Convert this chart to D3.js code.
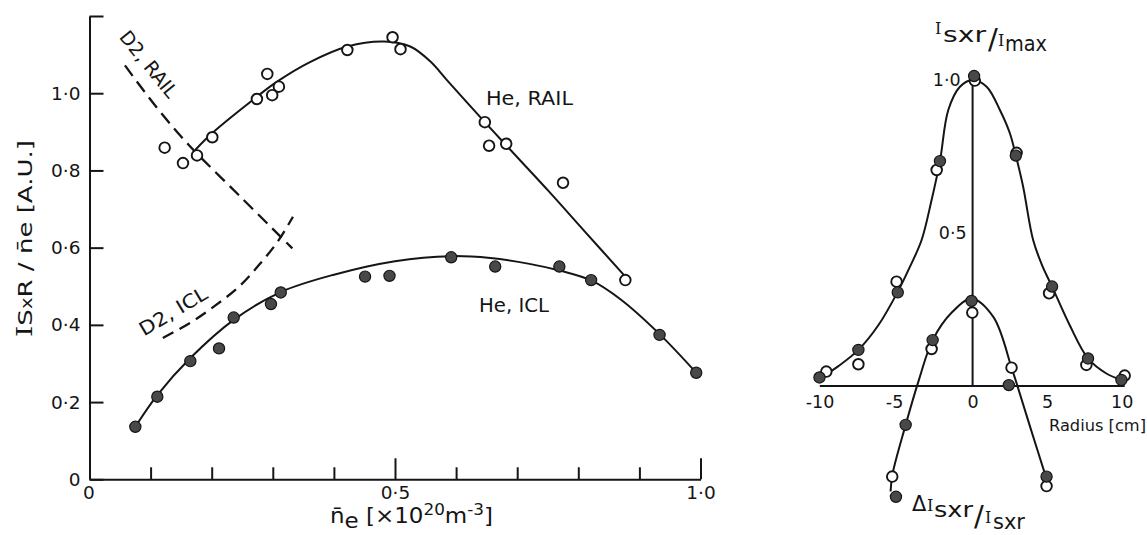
<!DOCTYPE html>
<html><head><meta charset="utf-8">
<script src="https://cdn.jsdelivr.net/npm/d3@7"></script>
<style>
body{margin:0;background:#fff}
svg text{font-family:"DejaVu Sans",sans-serif;fill:#151515}
</style>
</head><body>
<svg id="c" width="1147" height="535"></svg>
<script>
// ---------- Left panel data (n_e in 1e20 m^-3, I_SXR/n_e in A.U.) ----------
const heRailX = [0.123,0.153,0.176,0.201,0.274,0.291,0.299,0.310,0.422,0.496,0.509,0.647,0.654,0.682,0.775,0.877];
const heRailY = [0.859,0.819,0.839,0.886,0.985,1.050,0.995,1.017,1.112,1.145,1.114,0.925,0.864,0.869,0.768,0.516];
const heRailFitX = [0.173,0.201,0.274,0.307,0.36,0.422,0.482,0.525,0.558,0.585,0.647,0.682,0.75,0.81,0.877];
const heRailFitY = [0.853,0.897,0.991,1.03,1.08,1.121,1.134,1.121,1.082,1.034,0.925,0.865,0.749,0.643,0.525];

const heIclX = [0.075,0.111,0.165,0.212,0.236,0.297,0.313,0.451,0.491,0.592,0.664,0.769,0.821,0.933,0.993];
const heIclY = [0.136,0.214,0.306,0.339,0.419,0.454,0.484,0.525,0.527,0.575,0.551,0.551,0.516,0.374,0.276];
const heIclFitX = [0.075,0.111,0.165,0.236,0.313,0.40,0.50,0.591,0.656,0.72,0.771,0.821,0.87,0.933,0.993];
const heIclFitY = [0.136,0.218,0.314,0.413,0.485,0.53,0.565,0.578,0.573,0.558,0.54,0.515,0.465,0.376,0.276];

const d2RailX = [0.058,0.11,0.1625,0.247,0.332];
const d2RailY = [1.072,0.963,0.866,0.732,0.598];
const d2IclX = [0.120,0.1645,0.205,0.246,0.279,0.309,0.333];
const d2IclY = [0.366,0.405,0.449,0.501,0.558,0.618,0.680];

const leftYTicks = [0,0.2,0.4,0.6,0.8,1.0,1.2];
const leftXTicks = [0,0.1,0.2,0.3,0.4,0.5,0.6,0.7,0.8,0.9,1.0];
const leftXLabels = [0,0.5,1.0];

// ---------- Right panel data (radius cm) ----------
const profFilledR = [0.1,-2.19,2.9,-5.02,5.33,-7.66,7.74,-10.27,9.98];
const profFilledY = [1.013,0.735,0.753,0.306,0.325,0.118,0.09,0.028,0.02];
const profOpenR = [0.15,-2.41,2.95,-5.1,5.13,-7.66,7.63,-9.81,10.2];
const profOpenY = [0.998,0.706,0.762,0.341,0.303,0.071,0.069,0.047,0.034];
const profFitR = [-10.25,-9,-7.66,-6.3,-5.02,-4.2,-3.42,-2.75,-2.19,-1.63,-0.85,0,0.94,1.83,2.5,2.9,3.39,4.06,4.7,5.33,6.5,7.74,9,10];
const profFitY = [0.025,0.065,0.118,0.2,0.308,0.39,0.477,0.608,0.735,0.902,0.978,1.0,0.978,0.902,0.826,0.753,0.651,0.477,0.39,0.325,0.2,0.09,0.04,0.02];

const dFilledR = [-0.07,-2.68,2.43,-4.49,-5.14,4.96];
const dFilledY = [0.278,0.15,0.003,-0.127,-0.362,-0.296];
const dOpenR = [-0.02,-2.75,2.61,-5.39,4.96];
const dOpenY = [0.24,0.121,0.06,-0.296,-0.327];
const dFitR = [-5.5,-5.38,-4.49,-3.6,-2.68,-1.4,-0.07,1.4,2.61,2.88,3.9,5.0];
const dFitY = [-0.345,-0.29,-0.127,0.02,0.15,0.24,0.285,0.225,0.06,0.02,-0.14,-0.31];

const rightXTicks = [-10,-5,0,5,10];
const rightYLabels = [0.5,1.0];

// ---------- drawing ----------
const ink = "#151515";
const fillDark = "#484848";
const svg = d3.select("#c");
const zip = (a,b) => a.map((v,i)=>[v,b[i]]);
const dotFmt = d => d3.format(".1f")(d).replace(".","\u00B7");
const SERIF = "'DejaVu Serif',serif";

// Left scales
const x = d3.scaleLinear().domain([0,1]).range([89.5,700.5]);
const y = d3.scaleLinear().domain([0,1.2]).range([479.3,16]);
const lineL = d3.line().x(d=>x(d[0])).y(d=>y(d[1])).curve(d3.curveCatmullRom.alpha(0.5));

// y axis
const gy = svg.append("g").attr("transform","translate(89.5,0)")
  .call(d3.axisLeft(y).tickValues(leftYTicks).tickSizeInner(-14).tickSizeOuter(0).tickPadding(9)
    .tickFormat(d => d===0 ? "0" : (d>1.1 ? "" : dotFmt(d))));
gy.attr("font-family",null).attr("font-size",null).attr("color",ink);
gy.selectAll("path,line").attr("stroke-width",2);
gy.selectAll("text").attr("font-size",18.5);

// x axis
const gx = svg.append("g").attr("transform","translate(0,479.3)")
  .call(d3.axisBottom(x).tickValues(leftXTicks).tickSizeInner(-12).tickSizeOuter(0).tickPadding(7)
    .tickFormat(d => leftXLabels.some(v=>Math.abs(v-d)<1e-9) ? (d===0?"0":dotFmt(d)) : ""));
gx.attr("font-family",null).attr("font-size",null).attr("color",ink);
gx.selectAll("path,line").attr("stroke-width",2);
gx.selectAll(".tick line").attr("y2", d => d===0 ? 0 : (Math.abs(d-0.5)<1e-9 || Math.abs(d-1)<1e-9 ? -21 : -12));
gx.selectAll("text").attr("font-size",18.5).attr("dx", d => d===0 ? -1 : 0);

// curves
svg.append("path").datum(zip(heRailFitX,heRailFitY)).attr("d",lineL)
  .attr("fill","none").attr("stroke",ink).attr("stroke-width",2);
svg.append("path").datum(zip(heIclFitX,heIclFitY)).attr("d",lineL)
  .attr("fill","none").attr("stroke",ink).attr("stroke-width",2);
svg.append("path").datum(zip(d2RailX,d2RailY)).attr("d",lineL)
  .attr("fill","none").attr("stroke",ink).attr("stroke-width",2.3).attr("stroke-dasharray","13,7");
svg.append("path").datum(zip(d2IclX,d2IclY)).attr("d",lineL)
  .attr("fill","none").attr("stroke",ink).attr("stroke-width",2.3).attr("stroke-dasharray","12,7");

// points
svg.append("g").selectAll("circle").data(zip(heRailX,heRailY)).join("circle")
  .attr("cx",d=>x(d[0])).attr("cy",d=>y(d[1])).attr("r",5.3)
  .attr("fill","#fff").attr("stroke",ink).attr("stroke-width",1.9);
svg.append("g").selectAll("circle").data(zip(heIclX,heIclY)).join("circle")
  .attr("cx",d=>x(d[0])).attr("cy",d=>y(d[1])).attr("r",5.6)
  .attr("fill",fillDark).attr("stroke",ink).attr("stroke-width",1.2);

// left labels
const lab = (t) => t.attr("lengthAdjust","spacingAndGlyphs");
lab(svg.append("text").attr("x",486).attr("y",105).attr("font-size",20).attr("textLength",87)).text("He, RAIL");
lab(svg.append("text").attr("x",479).attr("y",311.5).attr("font-size",20).attr("textLength",70)).text("He, ICL");
lab(svg.append("text").attr("transform","translate(149,64) rotate(51)").attr("x",0).attr("y",7)
  .attr("text-anchor","middle").attr("font-size",19).attr("textLength",80)).text("D2, RAIL");
lab(svg.append("text").attr("transform","translate(173,311) rotate(-31)").attr("x",0).attr("y",7)
  .attr("text-anchor","middle").attr("font-size",19).attr("textLength",76)).text("D2, ICL");

// left axis titles
const yt = lab(svg.append("text").attr("transform","translate(32,238.5) rotate(-90)")
  .attr("text-anchor","middle").attr("font-size",20).attr("textLength",197));
yt.append("tspan").attr("font-family",SERIF).attr("font-size",22).text("I");
yt.append("tspan").text("S");
yt.append("tspan").attr("font-size",15).text("x");
yt.append("tspan").text("R / n\u0304e  [A.U.]");

const xt = lab(svg.append("text").attr("x",330).attr("y",523).attr("font-size",20.5).attr("textLength",163));
xt.append("tspan").text("n\u0304");
xt.append("tspan").attr("dy",5).text("e");
xt.append("tspan").attr("dy",-5).text(" [\u00D710");
xt.append("tspan").attr("dy",-8).attr("font-size",15).text("20");
xt.append("tspan").attr("dy",8).text("m");
xt.append("tspan").attr("dy",-8).attr("font-size",15).text("-3");
xt.append("tspan").attr("dy",8).text("]");

// ---------- Right panel ----------
const xr = d3.scaleLinear().domain([-10,10]).range([823.5,1121.7]);
const yr = d3.scaleLinear().domain([0,1]).range([386,80]);
const lineR = d3.line().x(d=>xr(d[0])).y(d=>yr(d[1])).curve(d3.curveCatmullRom.alpha(0.5));

const gxr = svg.append("g").attr("transform",`translate(0,${yr(0)})`)
  .call(d3.axisBottom(xr).tickValues(rightXTicks).tickSize(0).tickPadding(10)
    .tickFormat(d => d<0 ? "-"+Math.abs(d) : String(d)));
gxr.attr("font-family",null).attr("font-size",null).attr("color",ink);
gxr.select(".domain").remove();
gxr.selectAll("text").attr("font-size",17.5).attr("dx", d => d<0 ? -4 : 0);
svg.append("line").attr("x1",xr(-10.25)).attr("x2",xr(10.2)).attr("y1",yr(0)).attr("y2",yr(0))
  .attr("stroke",ink).attr("stroke-width",2);
svg.append("line").attr("x1",xr(0)).attr("x2",xr(0)).attr("y1",yr(0)).attr("y2",yr(1))
  .attr("stroke",ink).attr("stroke-width",2);
svg.append("g").selectAll("text").data(rightYLabels).join("text")
  .attr("x",d => d===1 ? xr(0)-12 : xr(0)-6).attr("y",d=>yr(d)+6).attr("text-anchor","end")
  .attr("font-size",17.5).text(dotFmt);

svg.append("path").datum(zip(profFitR,profFitY)).attr("d",lineR)
  .attr("fill","none").attr("stroke",ink).attr("stroke-width",2);
svg.append("path").datum(zip(dFitR,dFitY)).attr("d",lineR)
  .attr("fill","none").attr("stroke",ink).attr("stroke-width",2);

const openPts = zip(profOpenR,profOpenY).concat(zip(dOpenR,dOpenY));
const filledPts = zip(profFilledR,profFilledY).concat(zip(dFilledR,dFilledY));
svg.append("g").selectAll("circle").data(openPts).join("circle")
  .attr("cx",d=>xr(d[0])).attr("cy",d=>yr(d[1])).attr("r",5.3)
  .attr("fill","#fff").attr("stroke",ink).attr("stroke-width",1.9);
svg.append("g").selectAll("circle").data(filledPts).join("circle")
  .attr("cx",d=>xr(d[0])).attr("cy",d=>yr(d[1])).attr("r",5.6)
  .attr("fill",fillDark).attr("stroke",ink).attr("stroke-width",1.2);

// right labels
lab(svg.append("text").attr("x",1049).attr("y",431).attr("font-size",16).attr("textLength",97)).text("Radius [cm]");

function fracLabel(parts){
  const t = svg.append("text");
  parts.forEach(p => {
    const s = t.append("tspan").attr("x",p.x).attr("y",p.y).attr("font-size",p.fs).text(p.t);
    if (p.serif) s.attr("font-family",SERIF);
    if (p.len) s.attr("textLength",p.len).attr("lengthAdjust","spacingAndGlyphs");
  });
  return t;
}
// top: I_sxr / I_max
fracLabel([
  {t:"I",x:935,y:34,fs:16,serif:true},
  {t:"sxr",x:943,y:42,fs:22,len:43},
  {t:"/",x:988,y:49,fs:29},
  {t:"I",x:998,y:46,fs:16,serif:true},
  {t:"max",x:1005,y:50.5,fs:22,len:42}
]);
// bottom: ΔI_sxr / I_sxr
fracLabel([
  {t:"\u0394",x:912,y:511,fs:21},
  {t:"I",x:927,y:511,fs:16,serif:true},
  {t:"sxr",x:934,y:517,fs:22,len:39},
  {t:"/",x:974,y:526,fs:29},
  {t:"I",x:985,y:523,fs:16,serif:true},
  {t:"sxr",x:993,y:529,fs:21,len:32}
]);
</script>
</body></html>
